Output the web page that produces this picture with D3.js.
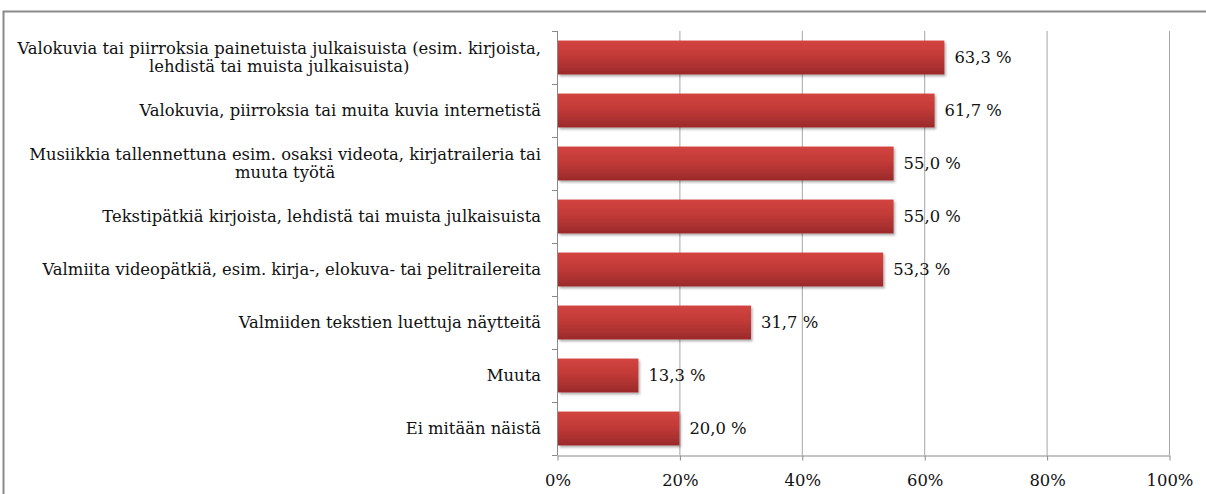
<!DOCTYPE html>
<html>
<head>
<meta charset="utf-8">
<script src="https://cdn.jsdelivr.net/npm/d3@7"></script>
<style>
  html, body { margin: 0; padding: 0; background: #fff; }
  svg { display: block; }
  text { font-family: "DejaVu Serif", "Liberation Serif", "Tinos", "Noto Serif", serif; fill: #111; }
</style>
</head>
<body>
<svg id="chart" width="1206" height="494"></svg>
<script>
// data
const categories = [
  ["Valokuvia tai piirroksia painetuista julkaisuista (esim. kirjoista,", "lehdistä tai muista julkaisuista)"],
  ["Valokuvia, piirroksia tai muita kuvia internetistä"],
  ["Musiikkia tallennettuna esim. osaksi videota, kirjatraileria tai", "muuta työtä"],
  ["Tekstipätkiä kirjoista, lehdistä tai muista julkaisuista"],
  ["Valmiita videopätkiä, esim. kirja-, elokuva- tai pelitrailereita"],
  ["Valmiiden tekstien luettuja näytteitä"],
  ["Muuta"],
  ["Ei mitään näistä"]
];
const values = [63.3, 61.7, 55.0, 55.0, 53.3, 31.7, 13.3, 20.0];
const xTicks = [0, 20, 40, 60, 80, 100];

/* Set up */
const svg = d3.select("#chart");
const plotLeft = 557, plotRight = 1169, plotTop = 31, plotBottom = 455;
const labelRight = 541;
const longestLine = 524; // width of the longest label line in the reference

// pick a font size so the longest label line fills the same width
const probe = svg.append("text").attr("font-size", 20).text(categories[0][0]);
const fs = Math.min(17, 20 * longestLine / probe.node().getComputedTextLength());
probe.remove();

const x = d3.scaleLinear().domain([0, 100]).range([plotLeft, plotRight]);
const keys = categories.map((d, i) => i);
const y = d3.scaleBand().domain(keys).range([plotTop, plotBottom])
  .paddingInner(0.36).paddingOuter(0.18);

const defs = svg.append("defs");
const grad = defs.append("linearGradient").attr("id", "barGrad")
  .attr("x1", 0).attr("y1", 0).attr("x2", 0).attr("y2", 1);
grad.append("stop").attr("offset", "0%").attr("stop-color", "#d2443f");
grad.append("stop").attr("offset", "45%").attr("stop-color", "#c23a37");
grad.append("stop").attr("offset", "100%").attr("stop-color", "#9a2a2a");
const shadow = defs.append("filter").attr("id", "shadow")
  .attr("x", "-5%").attr("y", "-20%").attr("width", "110%").attr("height", "150%");
shadow.append("feDropShadow").attr("dx", 1.5).attr("dy", 2)
  .attr("stdDeviation", 1.2).attr("flood-color", "#000").attr("flood-opacity", 0.3);

// frame
svg.append("rect")
  .attr("x", 3.5).attr("y", 11.5).attr("width", 1220).attr("height", 520)
  .attr("fill", "none").attr("stroke", "#8a8a8a").attr("stroke-width", 2);

// gridlines
svg.append("g").selectAll("line").data(xTicks.filter(d => d > 0)).join("line")
  .attr("x1", d => x(d) + 0.5).attr("x2", d => x(d) + 0.5)
  .attr("y1", plotTop).attr("y2", plotBottom)
  .attr("stroke", "#a6a6a6").attr("stroke-width", 1);

// bottom axis
const xAxis = svg.append("g").attr("transform", `translate(0.5,${plotBottom + 0.5})`)
  .call(d3.axisBottom(x).tickValues(xTicks).tickSize(5).tickSizeOuter(0)
    .tickFormat(d => d + "%"));
xAxis.attr("font-family", null).attr("font-size", null);
xAxis.select(".domain").attr("stroke", "#8a8a8a");
xAxis.selectAll(".tick line").attr("stroke", "#8a8a8a");
xAxis.selectAll(".tick text")
  .attr("y", 19).attr("font-size", fs).attr("fill", "#111");

// left axis with ticks at band boundaries
const yAxis = svg.append("g");
yAxis.append("line")
  .attr("x1", plotLeft + 0.5).attr("x2", plotLeft + 0.5).attr("y1", plotTop).attr("y2", plotBottom)
  .attr("stroke", "#8a8a8a");
const bounds = d3.range(categories.length + 1).map(i => plotTop + i * y.step());
yAxis.selectAll("line.tk").data(bounds).join("line").attr("class", "tk")
  .attr("x1", plotLeft - 5).attr("x2", plotLeft + 0.5)
  .attr("y1", d => Math.round(d) + 0.5).attr("y2", d => Math.round(d) + 0.5)
  .attr("stroke", "#8a8a8a");

// bars
svg.append("g").selectAll("rect").data(values).join("rect")
  .attr("x", x(0) + 1)
  .attr("y", (d, i) => y(i))
  .attr("width", d => x(d) - x(0) - 1)
  .attr("height", y.bandwidth())
  .attr("fill", "url(#barGrad)")
  .attr("filter", "url(#shadow)");

// value labels
const fmt = d => d.toFixed(1).replace(".", ",") + " %";
svg.append("g").selectAll("text").data(values).join("text")
  .attr("x", d => x(d) + 10)
  .attr("y", (d, i) => y(i) + y.bandwidth() / 2)
  .attr("dy", "0.35em")
  .attr("font-size", fs)
  .text(fmt);

// category labels
const lineH = 18;
const labels = svg.append("g");
categories.forEach((lines, i) => {
  const cy = y(i) + y.bandwidth() / 2;
  const t = labels.append("text").attr("font-size", fs);
  const n = lines.length;
  lines.forEach((s, j) => {
    t.append("tspan").attr("y", cy + (j - (n - 1) / 2) * lineH).attr("dy", "0.35em").text(s);
  });
  if (n === 1) {
    t.attr("text-anchor", "end").selectAll("tspan").attr("x", labelRight);
  } else {
    const w = d3.max(t.selectAll("tspan").nodes(), nd => nd.getComputedTextLength());
    t.attr("text-anchor", "middle").selectAll("tspan").attr("x", labelRight - w / 2);
  }
});
</script>
</body>
</html>
